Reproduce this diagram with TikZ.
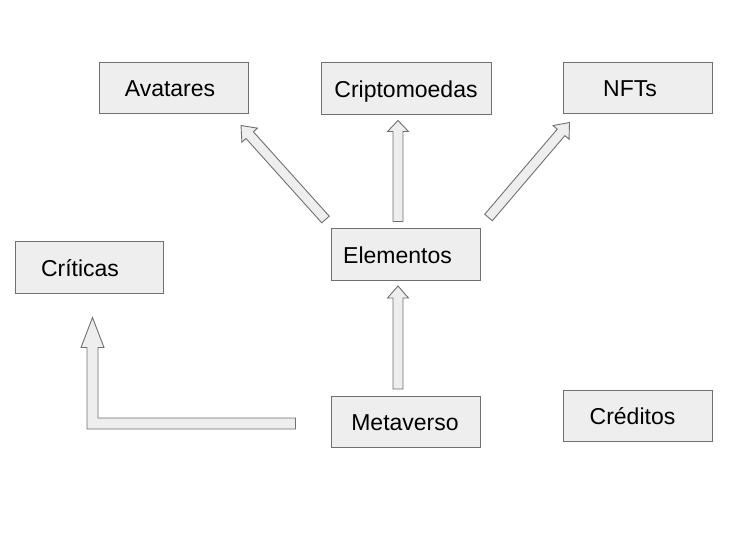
\documentclass[tikz,border=0pt]{standalone}
\usepackage{fontspec}
\setmainfont{Liberation Sans}
\usetikzlibrary{calc}
\definecolor{boxfill}{HTML}{EEEEEE}
\definecolor{boxline}{HTML}{707070}
\tikzset{
  box/.style={draw=boxline, fill=boxfill, line width=1pt, inner sep=0pt},
  lbl/.style={inner sep=0pt, font=\fontsize{23}{26}\selectfont, text=black, text height=16.5pt, text depth=0pt},
  blk/.style={draw=boxline, fill=boxfill, line width=0.9pt, line join=miter}
}
\newcommand{\blockarr}[5]{%
  \coordinate (hb) at ($(#2)!#5!(#1)$);
  \draw[blk] ($(#1)!#3!90:(#2)$) -- ($(hb)!#3!90:(#2)$) -- ($(hb)!#4!90:(#2)$) -- (#2)
    -- ($(hb)!#4!-90:(#2)$) -- ($(hb)!#3!-90:(#2)$) -- ($(#1)!#3!-90:(#2)$) -- cycle;
}
\begin{document}
\begin{tikzpicture}[x=1pt,y=-1pt]
\useasboundingbox[fill=white] (0,0) rectangle (735,544);
% boxes
\node[box, minimum width=149pt, minimum height=51pt] (avat) at (173.5,87.5) {};
\node[box, minimum width=170pt, minimum height=52pt] (cripto) at (406,88) {};
\node[box, minimum width=149pt, minimum height=51pt] (nft) at (637.5,87.5) {};
\node[box, minimum width=148pt, minimum height=52pt] (crit) at (89,267) {};
\node[box, minimum width=149pt, minimum height=52pt] (elem) at (405.5,254) {};
\node[box, minimum width=149pt, minimum height=51pt] (meta) at (405.5,421.5) {};
\node[box, minimum width=149pt, minimum height=51pt] (cred) at (637.5,415.5) {};
% labels
\node[lbl] (tavat) at ($(avat)+(-3.5,1)$) {Avatares};
\node[lbl] (tcripto) at ($(cripto)+(0,1)$) {Criptomoedas};
\node[lbl] (tnft) at ($(nft)+(-7.5,1)$) {NFTs};
\node[lbl] (tcrit) at ($(crit)+(-9,1)$) {Críticas};
\node[lbl] (telem) at ($(elem)+(-8,1)$) {Elementos};
\node[lbl] (tmeta) at ($(meta)+(-0.5,1)$) {Metaverso};
\node[lbl] (tcred) at ($(cred)+(-5,1)$) {Créditos};
% arrow end points
\coordinate (a1t) at ($(elem.north west)+(-5,-8)$);
\coordinate (a1h) at ($(avat.south)+(67.5,12)$);
\coordinate (a2t) at ($(elem.north)+(-7.5,-6)$);
\coordinate (a2h) at ($(cripto.south)+(-8,6)$);
\coordinate (a3t) at ($(elem.north east)+(8,-10)$);
\coordinate (a3h) at ($(nft.south west)+(7,9)$);
\coordinate (a4t) at ($(meta.north)+(-7.5,-6.5)$);
\coordinate (a4h) at ($(elem.south)+(-7.5,5.5)$);
\blockarr{a1t}{a1h}{5pt}{10.5pt}{13pt}
\blockarr{a2t}{a2h}{5pt}{10.5pt}{11pt}
\blockarr{a3t}{a3h}{5pt}{10.5pt}{13pt}
\blockarr{a4t}{a4h}{5pt}{10.5pt}{12pt}
% bent arrow to Criticas
\coordinate (a5t) at ($(meta.west)+(-35,2)$);
\coordinate (a5h) at ($(crit.south)+(3.5,24)$);
\draw[blk] ($(a5t)+(0,-5.5)$) -- ($(a5h|-a5t)+(5.5,-5.5)$) -- ($(a5h)+(5.5,30)$)
  -- ($(a5h)+(11.5,30)$) -- (a5h) -- ($(a5h)+(-11.5,30)$) -- ($(a5h)+(-5.5,30)$)
  -- ($(a5h|-a5t)+(-5.5,5.5)$) -- ($(a5t)+(0,5.5)$) -- cycle;
\end{tikzpicture}
\end{document}
